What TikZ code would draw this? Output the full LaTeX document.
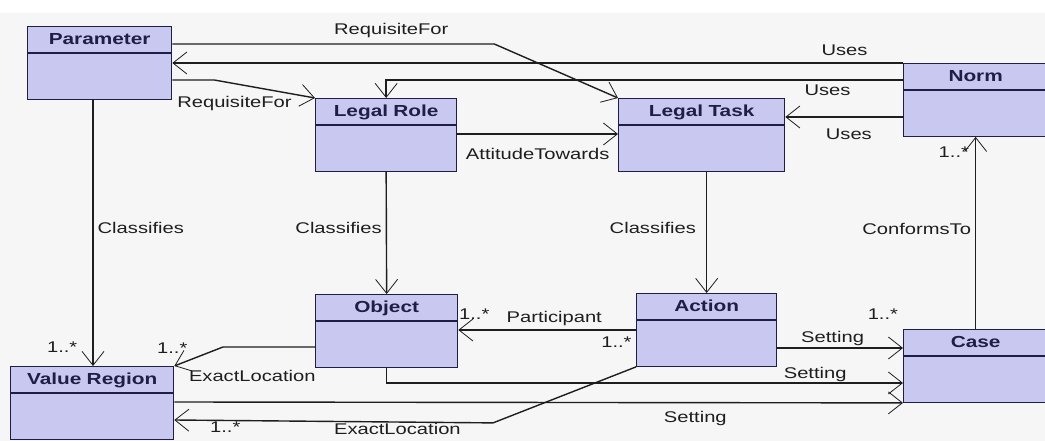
\documentclass[tikz,border=0pt]{standalone}
\usepackage{fontspec}
\setmainfont[FakeStretch=1.3]{Liberation Sans}
\usetikzlibrary{shapes.multipart, arrows.meta, positioning, calc}

\definecolor{clsfill}{RGB}{200,200,240}
\definecolor{clsline}{RGB}{30,30,70}
\definecolor{bgcol}{RGB}{246,246,246}
\definecolor{inkcol}{RGB}{30,30,30}

\begin{document}
\begin{tikzpicture}[x=1pt, y=-1pt,
    cls/.style={rectangle split, rectangle split parts=2, draw=clsline, fill=clsfill,
        line width=1.3pt, inner xsep=0pt, inner ysep=0pt, text width=#1, align=center,
        anchor=north west, text=clsline, font=\bfseries\fontsize{16}{18}\selectfont},
    assoc/.style={draw=inkcol, line width=1.4pt,
        -{Straight Barb[length=14pt, width=22pt, line width=0.8pt]}},
    lbl/.style={font=\fontsize{15.5}{17}\selectfont, text=inkcol, inner sep=1pt}
]
    \useasboundingbox (0,0) rectangle (1045,441);
    \clip (0,0) rectangle (1045,441);
    \fill[white] (0,0) rectangle (1045,441);
    \fill[bgcol] (0,13) rectangle (1045,441);

    % classes
    \node[cls=144pt] (param)  at (27,26)   {Parameter\rule[-8pt]{0pt}{25pt}\nodepart{two}\rule{0pt}{45pt}};
    \node[cls=141pt] (role)   at (315,98)  {Legal Role\rule[-8pt]{0pt}{25pt}\nodepart{two}\rule{0pt}{45pt}};
    \node[cls=166pt] (task)   at (618,98)  {Legal Task\rule[-8pt]{0pt}{25pt}\nodepart{two}\rule{0pt}{45pt}};
    \node[cls=144pt] (norm)   at (903,63)  {Norm\rule[-8pt]{0pt}{25pt}\nodepart{two}\rule{0pt}{45pt}};
    \node[cls=142pt] (obj)    at (315,294) {Object\rule[-8pt]{0pt}{25pt}\nodepart{two}\rule{0pt}{45pt}};
    \node[cls=140pt] (action) at (636,293) {Action\rule[-8pt]{0pt}{25pt}\nodepart{two}\rule{0pt}{45pt}};
    \node[cls=144pt] (case)   at (903,329) {Case\rule[-8pt]{0pt}{25pt}\nodepart{two}\rule{0pt}{45pt}};
    \node[cls=163pt] (vr)     at (10,366)  {Value Region\rule[-8pt]{0pt}{25pt}\nodepart{two}\rule{0pt}{45pt}};

    \coordinate (usesc) at ([yshift=-54pt]norm.north west);
    \coordinate (attc)  at ([yshift=-36pt]role.north east);
    \coordinate (partc) at ([yshift=-37pt]action.north west);
    \coordinate (setc)  at ([yshift=-55pt]action.north east);
    \coordinate (clsx)  at ([xshift=66pt]param.south west);

    % associations
    \draw[assoc] ([yshift=-18pt]param.north east) -- ++(322,0)
        node[lbl, pos=0.68, above=5pt] (lreqa) {RequisiteFor} -- (task.north west);
    \draw[assoc] (norm.north west) -- (norm.north west -| param.east)
        node[lbl, pos=0.08, above=6pt] (lusesa) {Uses};
    \draw[assoc] ([yshift=-17pt]norm.north west) -| (role.north)
        node[lbl, pos=0.073, below=3pt] (lusesb) {Uses};
    \draw[assoc] (usesc) -- (usesc -| task.east)
        node[lbl, pos=0.46, below=10pt] (lusesc) {Uses};
    \draw[assoc] ([yshift=-54pt]param.north east) -- ++(42,0) -- (role.north west)
        node[lbl, pos=0.2, below=11pt] (lreqb) {RequisiteFor};
    \draw[assoc] (attc) -- (attc -| task.west)
        node[lbl, pos=0.5, below=13pt] (latt) {AttitudeTowards};

    \draw[assoc] (clsx) -- (clsx |- vr.north)
        node[lbl, pos=0.48, right=3pt] (lclsa) {Classifies}
        node[lbl, pos=0.93, left=14pt] (mclsa) {1..*};
    \draw[assoc] (role.south) -- (obj.north)
        node[lbl, pos=0.46, left=3pt] (lclsb) {Classifies};
    \draw[assoc] (action.north |- task.south) -- (action.north)
        node[lbl, pos=0.46, left=9pt] (lclsc) {Classifies};
    \draw[assoc] (case.north) -- (norm.south)
        node[lbl, pos=0.52, left=3pt] (lconf) {ConformsTo}
        node[lbl, pos=0.92, left=5pt] (mconf) {1..*};

    \draw[assoc] (partc) -- (partc -| obj.east)
        node[lbl, pos=0.46, above=3pt] (lpart) {Participant}
        node[lbl, pos=0.91, above=9pt] (mparta) {1..*}
        node[lbl, pos=0.11, below=5pt] (mpartb) {1..*};
    \draw[assoc] ([yshift=-53pt]obj.north west) -- ++(-92,0) -- (vr.north east)
        node[lbl, pos=1, anchor=north west, xshift=13pt, yshift=-3pt] (lexa) {ExactLocation}
        node[lbl, pos=1, anchor=south, xshift=-2pt, yshift=11pt] (mexa) {1..*};

    \draw[assoc] (setc) -- (setc -| case.west)
        node[lbl, pos=0.44, above=1pt] (lseta) {Setting}
        node[lbl, pos=0.84, above=27pt] (mseta) {1..*};
    \draw[assoc] (obj.south) |- ([yshift=-54pt]case.north west)
        node[lbl, pos=0.915, above=0pt] (lsetb) {Setting};
    \draw[assoc] ([yshift=-36pt]vr.north east) -- (case.south west)
        node[lbl, pos=0.715, below=7pt] (lsetc) {Setting};
    \draw[assoc] (action.south west) -- ++(-143,56) -- ([yshift=-54pt]vr.north east)
        node[lbl, pos=0.3, below=0pt] (lexb) {ExactLocation}
        node[lbl, pos=0.84, below=0pt] (mexb) {1..*};
\end{tikzpicture}
\end{document}
